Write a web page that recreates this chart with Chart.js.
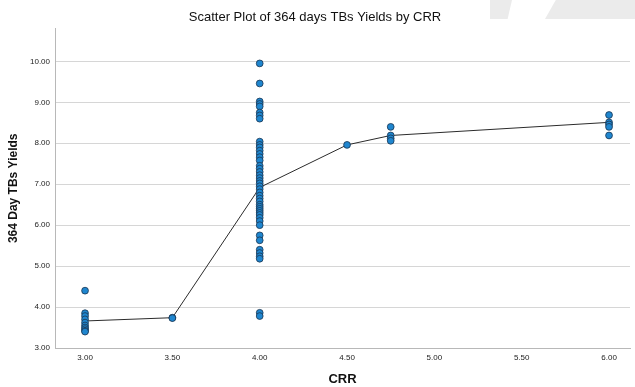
<!DOCTYPE html>
<html lang="en">
<head>
    <meta charset="UTF-8">
    <title>Scatter Plot of 364 days TBs Yields by CRR</title>
    <script src="https://cdn.jsdelivr.net/npm/chart.js"></script>
    <style>
        html, body { margin: 0; padding: 0; background: #fff; }
        #wrap { position: relative; width: 635px; height: 387px; }
        .shade { position: absolute; top: 0; background: #ebebeb; }
        canvas { position: absolute; left: 0; top: 0; }
    </style>
</head>
<body>
    <div id="wrap">
        <!-- faint grey shapes in the top right corner of the original -->
        <div class="shade" style="left:490px;width:22px;height:19px;clip-path:polygon(0 0,100% 0,80% 100%,0 100%);"></div>
        <div class="shade" style="left:545px;width:90px;height:19px;clip-path:polygon(12% 0,100% 0,100% 100%,0 100%);"></div>
        <canvas id="chart" width="635" height="387"></canvas>
    </div>

    <script>
        // CRR levels and the yields for each level
        const crrLevels = [3.00, 3.50, 4.00, 4.50, 4.75, 6.00];
        const yieldsAt300 = [4.40, 3.85, 3.78, 3.70, 3.62, 3.55, 3.50, 3.46, 3.42, 3.40];
        const yieldsAt350 = [3.74, 3.73];
        const yieldsAt400 = [9.95, 9.46, 9.02, 8.96, 8.90, 8.75, 8.68, 8.60,
            8.04, 7.96, 7.90, 7.82, 7.74, 7.66, 7.58,
            7.45, 7.38, 7.30, 7.22, 7.15, 7.08, 7.02, 6.95, 6.88, 6.80, 6.72,
            6.65, 6.58, 6.50, 6.45, 6.40, 6.35, 6.30, 6.25, 6.18, 6.10, 6.00,
            5.75, 5.63, 5.40, 5.32, 5.24, 5.18, 3.86, 3.78];
        const yieldsAt450 = [7.96];
        const yieldsAt475 = [8.40, 8.19, 8.12, 8.06];
        const yieldsAt600 = [8.69, 8.51, 8.46, 8.40, 8.19];
        // mean line joining the groups
        const meanYields = [3.66, 3.74, 6.92, 7.96, 8.19, 8.51];

        const xTicks = [3.00, 3.50, 4.00, 4.50, 5.00, 5.50, 6.00];
        const yTicks = [3, 4, 5, 6, 7, 8, 9, 10];

        const groups = [yieldsAt300, yieldsAt350, yieldsAt400, yieldsAt450, yieldsAt475, yieldsAt600];
        const scatterPoints = [];
        groups.forEach((vals, i) => {
            vals.forEach(v => scatterPoints.push({ x: crrLevels[i], y: v }));
        });
        const meanPoints = crrLevels.map((c, i) => ({ x: c, y: meanYields[i] }));

        const ctx = document.getElementById('chart').getContext('2d');
        new Chart(ctx, {
            type: 'scatter',
            data: {
                datasets: [
                    {
                        label: 'Yields',
                        data: scatterPoints,
                        backgroundColor: '#1f86cf',
                        borderColor: '#1b3550',
                        borderWidth: 0.8,
                        pointRadius: 3.4
                    },
                    {
                        label: 'Mean',
                        data: meanPoints,
                        showLine: true,
                        borderColor: '#2b2b2b',
                        borderWidth: 1,
                        pointRadius: 0,
                        fill: false
                    }
                ]
            },
            options: {
                responsive: false,
                animation: false,
                layout: { padding: { left: 0, right: 5, top: 0, bottom: 0 } },
                plugins: {
                    legend: { display: false },
                    tooltip: { enabled: false },
                    title: {
                        display: true,
                        text: 'Scatter Plot of 364 days TBs Yields by CRR',
                        color: '#111',
                        font: { family: 'Liberation Sans', size: 13, weight: 'normal' },
                        padding: { top: 10, bottom: 3 }
                    }
                },
                scales: {
                    x: {
                        type: 'linear',
                        min: 2.828,
                        max: 6.12,
                        afterFit: s => { s.height = 39; },
                        afterBuildTicks: s => { s.ticks = xTicks.map(v => ({ value: v })); },
                        grid: { display: false, drawTicks: false },
                        border: { color: '#b8b8b8', width: 1 },
                        ticks: {
                            color: '#222',
                            padding: 5,
                            maxRotation: 0,
                            font: { family: 'Liberation Sans', size: 8 },
                            callback: v => v.toFixed(2)
                        },
                        title: {
                            display: true,
                            text: 'CRR',
                            color: '#111',
                            font: { family: 'Liberation Sans', size: 13, weight: 'bold' },
                            padding: { top: 0, bottom: 0 }
                        }
                    },
                    y: {
                        type: 'linear',
                        min: 3,
                        max: 10.8,
                        afterFit: s => { s.width = 55; },
                        afterBuildTicks: s => { s.ticks = yTicks.map(v => ({ value: v })); },
                        grid: { color: '#d6d6d6', lineWidth: 1, drawTicks: false },
                        border: { color: '#b8b8b8', width: 1 },
                        ticks: {
                            color: '#222',
                            padding: 5,
                            font: { family: 'Liberation Sans', size: 8 },
                            callback: v => v.toFixed(2)
                        },
                        title: {
                            display: true,
                            text: '364 Day TBs Yields',
                            color: '#111',
                            font: { family: 'Liberation Sans', size: 12, weight: 'bold' },
                            padding: { top: 6, bottom: 0 }
                        }
                    }
                }
            }
        });
    </script>
</body>
</html>
